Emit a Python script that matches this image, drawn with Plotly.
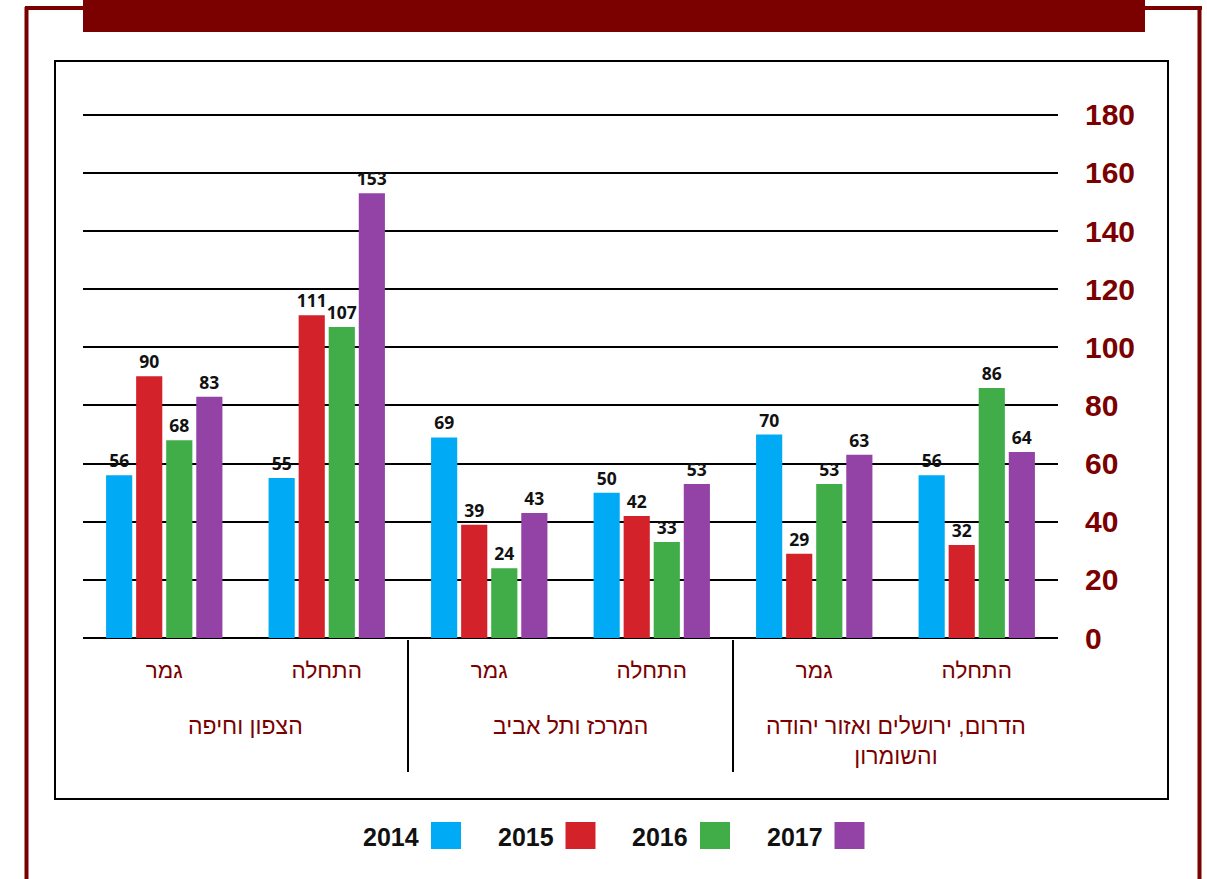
import plotly.graph_objects as go

# ---- data ----
regions = ["הצפון וחיפה", "המרכז ותל אביב", "הדרום, ירושלים ואזור יהודה<br>והשומרון"]
stages = ["גמר", "התחלה"]
years = ["2014", "2015", "2016", "2017"]
v2014 = [56, 55, 69, 50, 70, 56]
v2015 = [90, 111, 39, 42, 29, 32]
v2016 = [68, 107, 24, 33, 53, 86]
v2017 = [83, 153, 43, 53, 63, 64]
series = [v2014, v2015, v2016, v2017]
colors = ["#00AAF5", "#D3222A", "#41AD49", "#9342A6"]
y_ticks = [0, 20, 40, 60, 80, 100, 120, 140, 160, 180]

DARK_RED = "#7B0000"
W, H = 1207, 879
PL, PR, PT, PB = 83, 1058, 113, 638
HEB_FONT = "Liberation Sans, DejaVu Sans"
NUM_FONT = "Liberation Sans, Arial, DejaVu Sans"

def px(x):
    return (x - PL) / (PR - PL)

def py(y):
    return (PB - y) / (PB - PT)

tick_pos = list(range(len(regions) * len(stages)))
tick_text = [s for _ in regions for s in stages]

fig = go.Figure()
for yr, vals, col in zip(years, series, colors):
    fig.add_trace(go.Bar(
        x=tick_pos, y=vals, name=yr, marker=dict(color=col, line=dict(width=0)),
        text=[str(v) for v in vals], textposition="outside", constraintext="none",
        textfont=dict(family="Open Sans, DejaVu Sans", size=17.5, color="#111111", weight=700),
        cliponaxis=False, showlegend=False,
    ))

shapes = []
# outer dark-red frame
shapes.append(dict(type="line", xref="paper", yref="paper", x0=px(26.5), x1=px(26.5), y0=py(7), y1=py(900),
                   line=dict(color=DARK_RED, width=4)))
shapes.append(dict(type="line", xref="paper", yref="paper", x0=px(1199.5), x1=px(1199.5), y0=py(7), y1=py(900),
                   line=dict(color=DARK_RED, width=4)))
shapes.append(dict(type="line", xref="paper", yref="paper", x0=px(25), x1=px(1202), y0=py(8), y1=py(8),
                   line=dict(color=DARK_RED, width=4)))
# banner
shapes.append(dict(type="rect", xref="paper", yref="paper", x0=px(83), x1=px(1145), y0=py(-5), y1=py(32),
                   fillcolor=DARK_RED, line=dict(width=0)))
# inner black frame
shapes.append(dict(type="rect", xref="paper", yref="paper", x0=px(55), x1=px(1168), y0=py(61), y1=py(799),
                   line=dict(color="black", width=2), fillcolor="rgba(0,0,0,0)"))
# group dividers
for i in range(1, len(regions)):
    xd = i * len(stages) - 0.5
    shapes.append(dict(type="line", xref="x", yref="paper", x0=xd, x1=xd, y0=py(640), y1=py(772),
                       line=dict(color="black", width=2)))

annotations = []
# group labels
for i, r in enumerate(regions):
    xc = i * len(stages) + (len(stages) - 1) / 2
    annotations.append(dict(text=r, xref="x", yref="paper", x=xc, y=py(711), xanchor="center", yanchor="top",
                            showarrow=False, font=dict(family=HEB_FONT, size=23, color=DARK_RED),
                            align="center"))

# custom legend (label left of swatch)
for i, (yr, col) in enumerate(zip(years, colors)):
    sx = 431 + i * 134.5
    shapes.append(dict(type="rect", xref="paper", yref="paper", x0=px(sx), x1=px(sx + 30), y0=py(822), y1=py(849),
                       fillcolor=col, line=dict(width=0)))
    annotations.append(dict(text=yr, xref="paper", yref="paper", x=px(sx - 10), y=py(837), xanchor="right",
                            yanchor="middle", showarrow=False,
                            font=dict(family=NUM_FONT, size=25, color="#111111", weight=700)))

fig.update_layout(
    width=W, height=H,
    margin=dict(l=PL, r=W - PR, t=PT, b=H - PB),
    paper_bgcolor="white", plot_bgcolor="white",
    barmode="group", bargap=0.26, bargroupgap=0.13,
    shapes=shapes, annotations=annotations,
    showlegend=False,
)
fig.update_xaxes(
    tickmode="array", tickvals=tick_pos, ticktext=tick_text, range=[-0.5, len(tick_pos) - 0.5],
    showgrid=False, zeroline=False, showline=False, ticks="",
    tickfont=dict(family=HEB_FONT, size=22.5, color=DARK_RED),
    ticklabelstandoff=16,
)
fig.update_yaxes(
    side="right", range=[0, 180.6], tickmode="array", tickvals=y_ticks,
    showgrid=True, gridcolor="black", gridwidth=2,
    zeroline=True, zerolinecolor="black", zerolinewidth=2,
    showline=False, ticks="",
    tickfont=dict(family=NUM_FONT, size=30, color=DARK_RED, weight=700),
    ticklabelstandoff=26,
)

fig.write_html("out.html", config={"displayModeBar": False},
               post_script="document.body.style.margin='0';")
